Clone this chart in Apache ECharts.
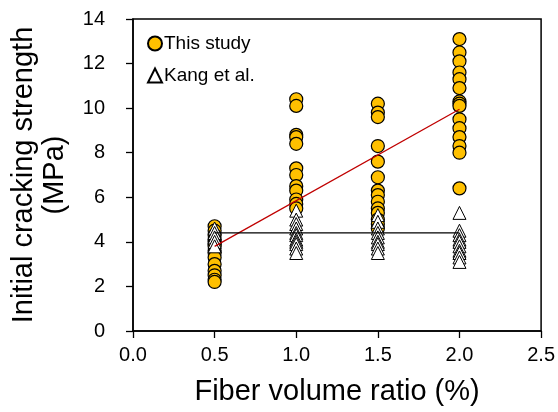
<!DOCTYPE html>
<html><head><meta charset="utf-8">
<script src="https://cdn.jsdelivr.net/npm/echarts@6/dist/echarts.min.js"></script>
<style>html,body{margin:0;padding:0;background:#fff}#c{width:558px;height:412px}</style>
</head><body><div id="c"></div>
<script>
const xTicks = [0, 0.5, 1.0, 1.5, 2.0, 2.5];
const yTicks = [0, 2, 4, 6, 8, 10, 12, 14];
const thisStudyX = [0.5,0.5,0.5,0.5,0.5,0.5,0.5,0.5,0.5,0.5,0.5,0.5,0.5,0.5,0.5,
  1.0,1.0,1.0,1.0,1.0,1.0,1.0,1.0,1.0,1.0,1.0,1.0,
  1.5,1.5,1.5,1.5,1.5,1.5,1.5,1.5,1.5,1.5,1.5,1.5,1.5,1.5,
  2.0,2.0,2.0,2.0,2.0,2.0,2.0,2.0,2.0,2.0,2.0,2.0,2.0,2.0,2.0];
const thisStudyY = [4.7,4.5,4.3,4.1,4.0,3.9,3.8,3.6,3.5,3.3,3.0,2.7,2.5,2.3,2.2,
  10.4,10.1,8.8,8.7,8.4,7.3,7.0,6.5,6.3,5.9,5.7,5.5,
  10.2,9.8,9.6,8.3,7.6,6.9,6.3,6.1,5.8,5.5,5.3,5.0,4.8,4.6,
  13.1,12.5,12.1,11.6,11.3,10.9,10.3,10.2,10.1,9.5,9.1,8.7,8.3,8.0,6.4];
const kangX = [0.5,0.5,0.5,0.5,0.5,
  1.0,1.0,1.0,1.0,1.0,1.0,1.0,1.0,1.0,1.0,1.0,
  1.5,1.5,1.5,1.5,1.5,1.5,1.5,1.5,1.5,
  2.0,2.0,2.0,2.0,2.0,2.0,2.0,2.0,2.0,2.0];
const kangY = [4.6,4.4,4.2,4.0,3.8,
  5.4,5.0,4.8,4.6,4.4,4.3,4.1,4.0,3.9,3.7,3.5,
  5.2,4.9,4.6,4.4,4.2,4.0,3.9,3.7,3.5,
  5.3,4.5,4.3,4.1,4.0,3.8,3.6,3.5,3.3,3.1];
const trendStudyX = [0.5, 2.0];
const trendStudyY = [3.8, 9.95];
const trendKangX = [0.5, 2.0];
const trendKangY = [4.4, 4.4];

const zip = (a, b) => a.map((v, i) => [v, b[i]]);
const font = 'Liberation Sans, Arial, sans-serif';
const chart = echarts.init(document.getElementById('c'));
chart.setOption({
  animation: false,
  grid: {left: 128, right: 14, top: 19, bottom: 81, show: true, borderColor: '#000', borderWidth: 1.5},
  legend: {
    orient: 'vertical', left: 142, top: 29, itemGap: 13, itemWidth: 14, itemHeight: 14,
    textStyle: {fontFamily: font, fontSize: 19, color: '#000', padding: [0, 0, 0, -3]},
    data: [{name: 'This study', icon: 'circle'}, {name: 'Kang et al.', icon: 'triangle'}]
  },
  xAxis: {
    type: 'value', min: 0, max: 2.5, interval: 0.5,
    name: 'Fiber volume ratio (%)', nameLocation: 'middle', nameGap: 46,
    nameTextStyle: {fontFamily: font, fontSize: 29, color: '#000'},
    axisLine: {lineStyle: {color: '#000', width: 1.5}},
    axisTick: {show: true, inside: false, length: 7, lineStyle: {color: '#000', width: 1.3}},
    axisLabel: {fontFamily: font, fontSize: 20, color: '#000', margin: 14,
      formatter: v => v.toFixed(1)},
    splitLine: {show: false}
  },
  yAxis: {
    type: 'value', min: 0, max: 14, interval: 2,
    name: 'Initial cracking strength\n(MPa)', nameLocation: 'middle', nameGap: 63,
    nameTextStyle: {fontFamily: font, fontSize: 29, color: '#000', lineHeight: 31, align: 'center'},
    axisLine: {lineStyle: {color: '#000', width: 1.5}},
    axisTick: {show: true, inside: false, length: 7, lineStyle: {color: '#000', width: 1.3}},
    axisLabel: {fontFamily: font, fontSize: 20, color: '#000', margin: 28},
    splitLine: {show: false}
  },
  series: [
    {name: 'This study', type: 'scatter', symbol: 'circle', symbolSize: 13, z: 2,
      itemStyle: {color: '#FFC000', borderColor: '#000', borderWidth: 1.2, opacity: 1},
      data: zip(thisStudyX, thisStudyY)},
    {name: 'Kang et al.', type: 'scatter', symbol: 'triangle', symbolSize: 13, z: 3,
      itemStyle: {color: '#fff', borderColor: '#000', borderWidth: 1, opacity: 1},
      data: zip(kangX, kangY)},
    {type: 'line', symbol: 'none', z: 4, lineStyle: {color: '#C00000', width: 1.3},
      data: zip(trendStudyX, trendStudyY), silent: true},
    {type: 'line', symbol: 'none', z: 4, lineStyle: {color: '#000', width: 1.3},
      data: zip(trendKangX, trendKangY), silent: true}
  ]
});
</script></body></html>
